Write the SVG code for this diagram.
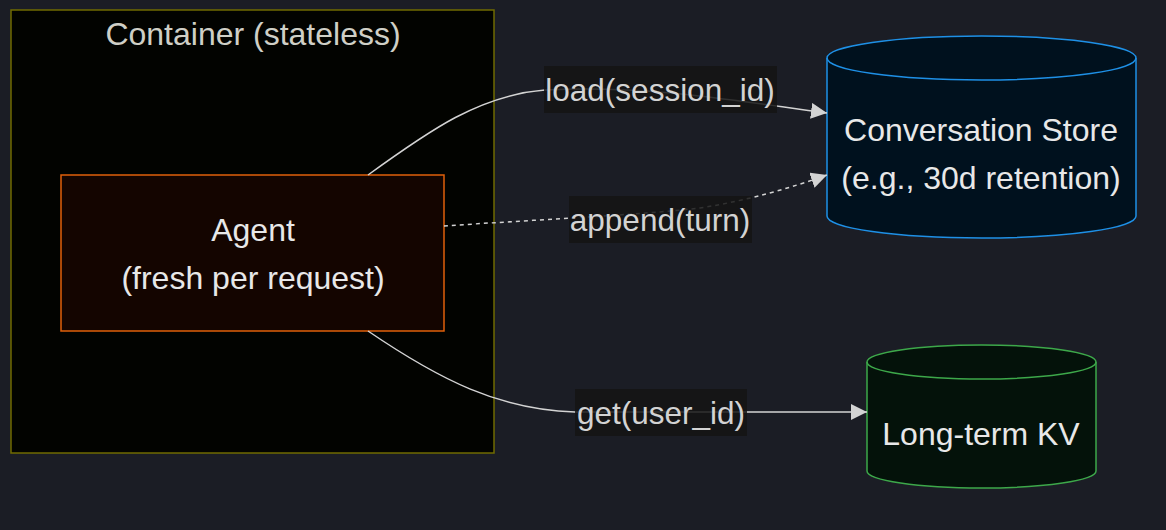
<svg xmlns="http://www.w3.org/2000/svg" width="1166" height="530" viewBox="0 0 1166 530">
<defs>
<marker id="ar" viewBox="0 0 10 10" refX="10" refY="5" markerWidth="16" markerHeight="16" markerUnits="userSpaceOnUse" orient="auto"><path d="M0,0L10,5L0,10z" fill="#d3d3d3"/></marker>
<style>
text{font-family:"Liberation Sans",Arial,sans-serif;font-size:32px;fill:#e8e8e8;text-anchor:middle}
.lt{fill:#d3d3d3;font-size:31.5px}
.lb{fill:#141414;fill-opacity:0.85}
.e{fill:none;stroke:#d3d3d3;stroke-width:1.5}
</style>
</defs>
<rect width="1166" height="530" fill="#1b1d25"/>
<g id="container">
<rect x="11" y="10" width="483" height="443" fill="#020300" stroke="#706b00" stroke-width="1.5"/>
<text x="253" y="45" style="fill:#cfcfc6">Container (stateless)</text>
</g>
<g id="agent">
<rect x="61" y="175" width="383" height="156" fill="#140500" stroke="#e0600a" stroke-width="1.5"/>
<text x="253" y="241">Agent</text>
<text x="253" y="289">(fresh per request)</text>
</g>
<g id="store">
<path d="M827,58 A154.5,22 0 0 1 1136,58 V216 A154.5,22 0 0 1 827,216 Z" fill="#00111e" stroke="#1e90e6" stroke-width="1.5"/>
<path d="M827,58 A154.5,22 0 0 0 1136,58" fill="none" stroke="#1e90e6" stroke-width="1.5"/>
<text x="981" y="141">Conversation Store</text>
<text x="981" y="189">(e.g., 30d retention)</text>
</g>
<g id="kv">
<path d="M867,362 A114.5,17 0 0 1 1096,362 V471 A114.5,17 0 0 1 867,471 Z" fill="#04120a" stroke="#3da84a" stroke-width="1.5"/>
<path d="M867,362 A114.5,17 0 0 0 1096,362" fill="none" stroke="#3da84a" stroke-width="1.5"/>
<text x="981" y="445">Long-term KV</text>
</g>
<g id="connectors">
<path class="e" d="M368,175 C430,130 480,95 545,90 C650,85 730,100 827,113" marker-end="url(#ar)"/>
<path class="e" stroke-dasharray="4,4" d="M444,226 C530,220 640,215 700,208 C750,200 790,188 827,175" marker-end="url(#ar)"/>
<path class="e" d="M368,331 C440,380 500,410 575,412 L867,412" marker-end="url(#ar)"/>
<rect class="lb" x="544" y="66" width="233" height="47"/>
<text class="lt" x="660" y="101">load(session_id)</text>
<rect class="lb" x="569" y="196" width="183" height="47"/>
<text class="lt" x="660" y="231">append(turn)</text>
<rect class="lb" x="575" y="389" width="172" height="47"/>
<text class="lt" x="661" y="424">get(user_id)</text>
</g>
</svg>
